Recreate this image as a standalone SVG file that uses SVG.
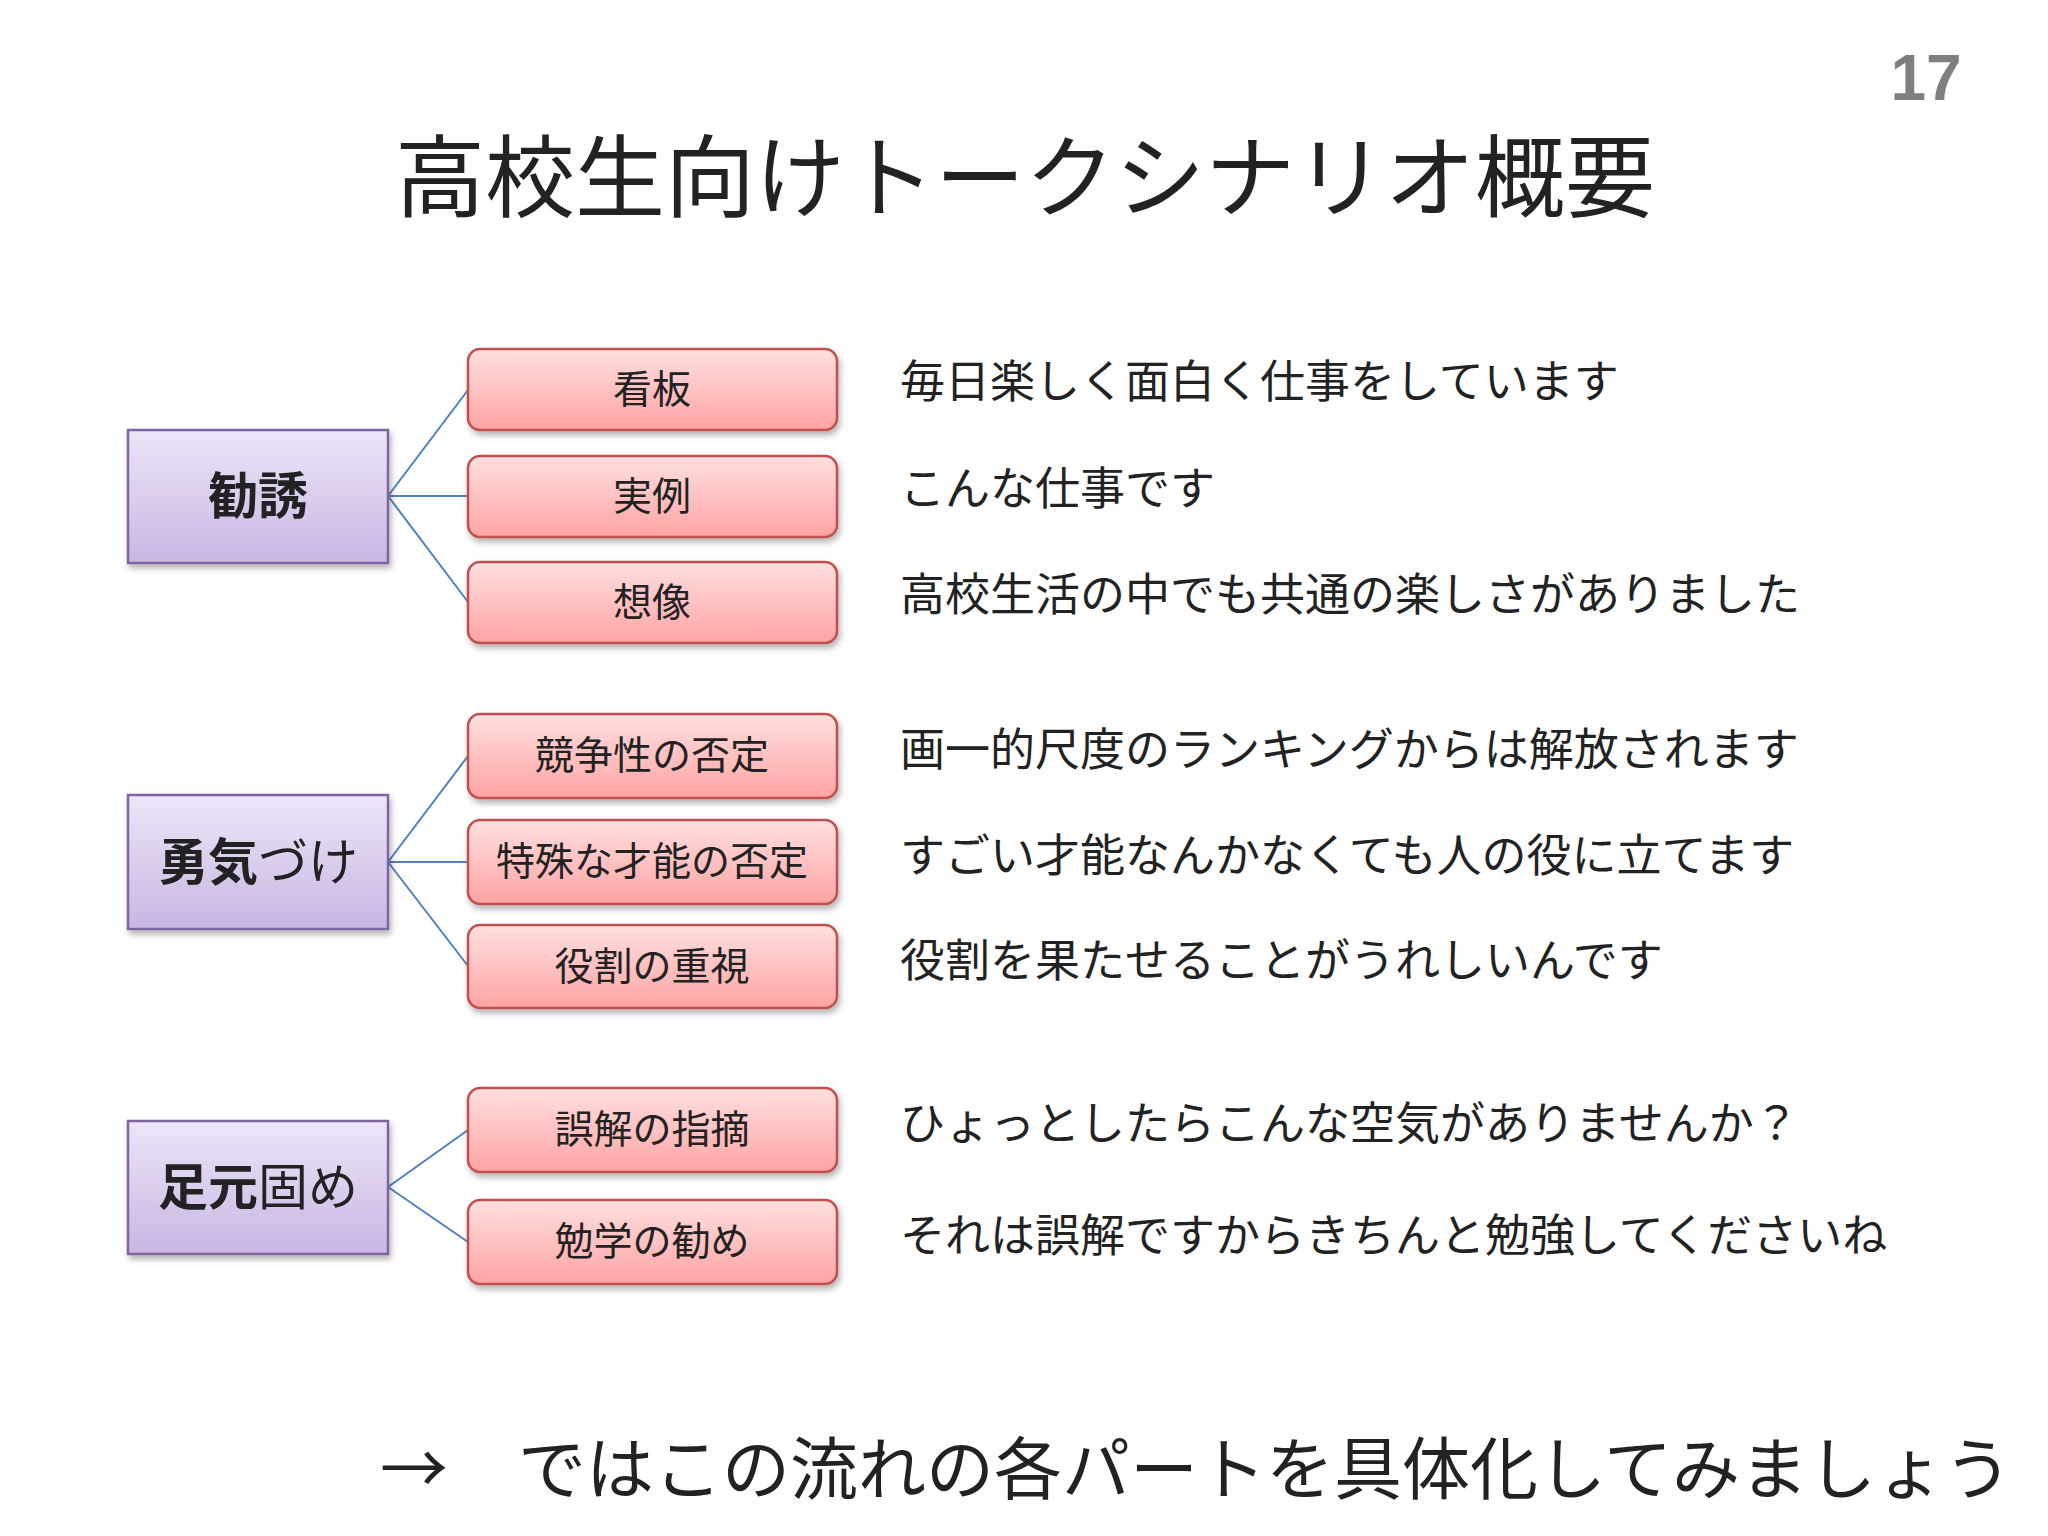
<svg xmlns="http://www.w3.org/2000/svg" width="2048" height="1536" viewBox="0 0 2048 1536">
<defs>
<linearGradient id="gp" x1="0" y1="0" x2="0" y2="1"><stop offset="0" stop-color="#ece6f8"/><stop offset="1" stop-color="#c8b6e2"/></linearGradient>
<linearGradient id="gr" x1="0" y1="0" x2="0" y2="1"><stop offset="0" stop-color="#ffe0e0"/><stop offset="1" stop-color="#ffa3a3"/></linearGradient>
<filter id="sh" x="-10%" y="-10%" width="120%" height="130%"><feDropShadow dx="2" dy="4" stdDeviation="3" flood-color="#000" flood-opacity="0.3"/></filter>
</defs>
<style>
text{font-family:"Noto Sans CJK JP","Noto Sans",sans-serif;fill:#222}
.p{fill:url(#gp);stroke:#8064a2;stroke-width:2.5;filter:url(#sh)}
.r{fill:url(#gr);stroke:#c0504d;stroke-width:2.5;filter:url(#sh)}
.pl{font-size:50px;text-anchor:middle}
.rl{font-size:39px;text-anchor:middle}
.d{font-size:45px}
.c line{stroke:#4f81bd;stroke-width:2}
b{font-weight:bold}
</style>
<rect width="2048" height="1536" fill="#fff"/>
<text x="1926" y="100" font-size="64" font-weight="bold" text-anchor="middle" style="font-family:'Liberation Sans',sans-serif;fill:#7f7f7f">17</text>
<text x="1025" y="210" font-size="90" text-anchor="middle">高校生向けトークシナリオ概要</text>
<g class="c">
<line x1="388" y1="496" x2="468" y2="390"/><line x1="388" y1="496" x2="468" y2="496"/><line x1="388" y1="496" x2="468" y2="602"/>
<line x1="388" y1="862" x2="468" y2="756"/><line x1="388" y1="862" x2="468" y2="862"/><line x1="388" y1="862" x2="468" y2="966"/>
<line x1="388" y1="1187" x2="468" y2="1130"/><line x1="388" y1="1187" x2="468" y2="1242"/>
</g>
<g id="n1"><rect class="p" x="128" y="430" width="260" height="133"/><text class="pl" x="258" y="514" font-weight="bold">勧誘</text></g>
<g id="n2"><rect class="p" x="128" y="795" width="260" height="134"/><text class="pl" x="258" y="880"><tspan font-weight="bold">勇気</tspan>づけ</text></g>
<g id="n3"><rect class="p" x="128" y="1121" width="260" height="133"/><text class="pl" x="258" y="1205"><tspan font-weight="bold">足元</tspan>固め</text></g>
<g id="a1"><rect class="r" x="468" y="349" width="369" height="81" rx="12"/><text class="rl" x="652" y="403">看板</text></g>
<g id="a2"><rect class="r" x="468" y="456" width="369" height="81" rx="12"/><text class="rl" x="652" y="510">実例</text></g>
<g id="a3"><rect class="r" x="468" y="562" width="369" height="81" rx="12"/><text class="rl" x="652" y="616">想像</text></g>
<g id="b1"><rect class="r" x="468" y="714" width="369" height="84" rx="12"/><text class="rl" x="652" y="769">競争性の否定</text></g>
<g id="b2"><rect class="r" x="468" y="820" width="369" height="84" rx="12"/><text class="rl" x="652" y="875">特殊な才能の否定</text></g>
<g id="b3"><rect class="r" x="468" y="925" width="369" height="83" rx="12"/><text class="rl" x="652" y="980">役割の重視</text></g>
<g id="c1"><rect class="r" x="468" y="1088" width="369" height="84" rx="12"/><text class="rl" x="652" y="1143">誤解の指摘</text></g>
<g id="c2"><rect class="r" x="468" y="1200" width="369" height="84" rx="12"/><text class="rl" x="652" y="1255">勉学の勧め</text></g>
<g id="desc">
<text class="d" x="900" y="398">毎日楽しく面白く仕事をしています</text>
<text class="d" x="900" y="505">こんな仕事です</text>
<text class="d" x="900" y="611">高校生活の中でも共通の楽しさがありました</text>
<text class="d" x="900" y="766">画一的尺度のランキングからは解放されます</text>
<text class="d" x="900" y="872">すごい才能なんかなくても人の役に立てます</text>
<text class="d" x="900" y="977">役割を果たせることがうれしいんです</text>
<text class="d" x="900" y="1140">ひょっとしたらこんな空気がありませんか？</text>
<text class="d" x="900" y="1252">それは誤解ですからきちんと勉強してくださいね</text>
</g>
<text x="380" y="1494" font-size="68">→</text>
<text x="518" y="1494" font-size="68">ではこの流れの各パートを具体化してみましょう</text>
</svg>
